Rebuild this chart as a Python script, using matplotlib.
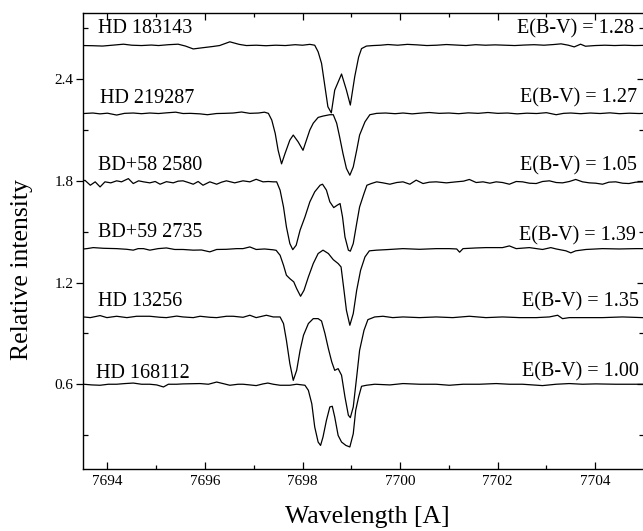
import matplotlib
matplotlib.use('Agg')
import matplotlib.pyplot as plt
from matplotlib.ticker import MultipleLocator

plt.rcParams['font.family'] = ['Liberation Serif', 'DejaVu Serif']
plt.rcParams['mathtext.fontset'] = 'stix'

# ---------------- data ----------------
stars = ['HD 183143', 'HD 219287', 'BD+58 2580', 'BD+59 2735', 'HD 13256', 'HD 168112']
ebv_values = ['1.28', '1.27', '1.05', '1.39', '1.35', '1.00']

hd183143_wl = [7693.51, 7693.70, 7693.90, 7694.10, 7694.33, 7694.50, 7694.70, 7694.90, 7695.05,
               7695.25, 7695.45, 7695.60, 7695.76, 7695.95, 7696.15, 7696.30, 7696.51, 7696.70,
               7696.85, 7697.05, 7697.25, 7697.45, 7697.65, 7697.85, 7698.00, 7698.15, 7698.25,
               7698.32, 7698.39, 7698.46, 7698.52, 7698.59, 7698.66, 7698.80, 7698.90, 7698.98,
               7699.07, 7699.15, 7699.21, 7699.31, 7699.45, 7699.60, 7699.75, 7699.95, 7700.15,
               7700.35, 7700.55, 7700.75, 7700.95, 7701.15, 7701.35, 7701.55, 7701.75, 7701.95,
               7702.15, 7702.35, 7702.55, 7702.75, 7702.95, 7703.15, 7703.30, 7703.45, 7703.57,
               7703.70, 7703.80, 7704.00, 7704.20, 7704.40, 7704.60, 7704.80, 7705.00]
hd183143_flux = [2.598, 2.597, 2.595, 2.600, 2.606, 2.600, 2.598, 2.601, 2.598,
                 2.603, 2.606, 2.595, 2.578, 2.585, 2.592, 2.598, 2.620, 2.605,
                 2.598, 2.600, 2.597, 2.600, 2.598, 2.603, 2.600, 2.605, 2.600,
                 2.561, 2.493, 2.355, 2.237, 2.201, 2.335, 2.430, 2.335, 2.247,
                 2.414, 2.530, 2.580, 2.595, 2.598, 2.600, 2.604, 2.600, 2.605,
                 2.602, 2.598, 2.600, 2.604, 2.601, 2.598, 2.603, 2.600, 2.602,
                 2.600, 2.598, 2.601, 2.603, 2.600, 2.604, 2.608, 2.600, 2.590,
                 2.606, 2.594, 2.598, 2.600, 2.598, 2.600, 2.598, 2.599]

hd219287_wl = [7693.51, 7693.70, 7693.85, 7694.00, 7694.19, 7694.35, 7694.53, 7694.70, 7694.87,
               7695.05, 7695.21, 7695.40, 7695.55, 7695.70, 7695.90, 7696.05, 7696.24, 7696.40,
               7696.58, 7696.75, 7696.92, 7697.10, 7697.22, 7697.30, 7697.37, 7697.44, 7697.50,
               7697.57, 7697.64, 7697.74, 7697.81, 7697.91, 7698.01, 7698.08, 7698.15, 7698.22,
               7698.32, 7698.42, 7698.56, 7698.63, 7698.70, 7698.76, 7698.83, 7698.90, 7698.97,
               7699.04, 7699.11, 7699.17, 7699.28, 7699.38, 7699.52, 7699.70, 7699.90, 7700.06,
               7700.25, 7700.45, 7700.60, 7700.80, 7701.00, 7701.20, 7701.40, 7701.60, 7701.80,
               7702.00, 7702.20, 7702.40, 7702.60, 7702.80, 7703.00, 7703.20, 7703.35, 7703.50,
               7703.70, 7703.90, 7704.10, 7704.30, 7704.50, 7704.70, 7704.90, 7705.00]
hd219287_flux = [2.197, 2.200, 2.195, 2.199, 2.188, 2.198, 2.200, 2.196, 2.200,
                 2.197, 2.201, 2.205, 2.197, 2.198, 2.195, 2.190, 2.197, 2.198,
                 2.200, 2.206, 2.198, 2.200, 2.205, 2.198, 2.158, 2.080, 1.980,
                 1.900, 1.960, 2.040, 2.070, 2.030, 1.980, 2.040, 2.100, 2.140,
                 2.174, 2.182, 2.190, 2.190, 2.140, 2.060, 1.960, 1.873, 1.833,
                 1.882, 1.980, 2.070, 2.148, 2.190, 2.198, 2.200, 2.196, 2.200,
                 2.195, 2.200, 2.203, 2.198, 2.200, 2.196, 2.201, 2.198, 2.203,
                 2.198, 2.200, 2.195, 2.199, 2.197, 2.202, 2.190, 2.198, 2.200,
                 2.196, 2.200, 2.197, 2.201, 2.196, 2.199, 2.197, 2.198]

bd58_wl = [7693.51, 7693.54, 7693.65, 7693.75, 7693.85, 7693.95, 7694.07, 7694.19, 7694.29,
           7694.43, 7694.53, 7694.64, 7694.74, 7694.87, 7694.98, 7695.08, 7695.21, 7695.35,
           7695.45, 7695.55, 7695.66, 7695.76, 7695.86, 7695.96, 7696.10, 7696.24, 7696.34,
           7696.44, 7696.61, 7696.78, 7696.92, 7697.05, 7697.19, 7697.30, 7697.40, 7697.47,
           7697.54, 7697.61, 7697.67, 7697.74, 7697.80, 7697.87, 7697.95, 7698.05, 7698.15,
           7698.25, 7698.36, 7698.41, 7698.49, 7698.56, 7698.64, 7698.71, 7698.77, 7698.82,
           7698.87, 7698.94, 7698.98, 7699.04, 7699.11, 7699.17, 7699.26, 7699.32, 7699.41,
           7699.52, 7699.65, 7699.79, 7699.93, 7700.06, 7700.20, 7700.33, 7700.47, 7700.60,
           7700.74, 7700.95, 7701.15, 7701.30, 7701.42, 7701.56, 7701.70, 7701.84, 7701.97,
           7702.10, 7702.24, 7702.38, 7702.51, 7702.65, 7702.79, 7702.92, 7703.06, 7703.20,
           7703.33, 7703.47, 7703.60, 7703.74, 7703.88, 7704.01, 7704.15, 7704.28, 7704.42,
           7704.56, 7704.69, 7704.83, 7704.97]
bd58_flux = [1.800, 1.803, 1.774, 1.794, 1.764, 1.794, 1.788, 1.800, 1.794,
             1.813, 1.784, 1.800, 1.794, 1.788, 1.796, 1.780, 1.795, 1.788,
             1.798, 1.800, 1.790, 1.780, 1.796, 1.774, 1.794, 1.780, 1.792,
             1.800, 1.788, 1.800, 1.794, 1.809, 1.794, 1.796, 1.794, 1.794,
             1.745, 1.646, 1.528, 1.430, 1.394, 1.420, 1.509, 1.587, 1.676,
             1.735, 1.774, 1.780, 1.745, 1.676, 1.642, 1.656, 1.666, 1.587,
             1.469, 1.391, 1.385, 1.430, 1.548, 1.646, 1.725, 1.774, 1.784,
             1.794, 1.788, 1.780, 1.790, 1.794, 1.780, 1.804, 1.784, 1.792,
             1.794, 1.788, 1.794, 1.798, 1.808, 1.790, 1.794, 1.786, 1.794,
             1.790, 1.780, 1.796, 1.794, 1.786, 1.784, 1.796, 1.800, 1.790,
             1.788, 1.796, 1.808, 1.794, 1.788, 1.786, 1.780, 1.792, 1.794,
             1.786, 1.784, 1.792, 1.794]

bd59_wl = [7693.51, 7693.58, 7693.71, 7693.92, 7694.19, 7694.40, 7694.53, 7694.63, 7694.74,
           7694.87, 7695.04, 7695.21, 7695.38, 7695.55, 7695.76, 7695.93, 7696.10, 7696.24,
           7696.44, 7696.65, 7696.78, 7696.92, 7697.05, 7697.22, 7697.40, 7697.46, 7697.50,
           7697.54, 7697.61, 7697.67, 7697.74, 7697.82, 7697.88, 7697.96, 7698.03, 7698.12,
           7698.22, 7698.32, 7698.42, 7698.53, 7698.63, 7698.73, 7698.79, 7698.85, 7698.90,
           7698.97, 7699.04, 7699.11, 7699.19, 7699.28, 7699.37, 7699.52, 7699.72, 7700.06,
           7700.40, 7700.74, 7701.01, 7701.16, 7701.22, 7701.29, 7701.56, 7701.76, 7702.10,
           7702.24, 7702.38, 7702.65, 7702.92, 7703.09, 7703.20, 7703.40, 7703.50, 7703.60,
           7703.81, 7704.15, 7704.49, 7704.83, 7704.97]
bd59_flux = [1.398, 1.400, 1.406, 1.402, 1.400, 1.396, 1.391, 1.400, 1.400,
             1.391, 1.400, 1.404, 1.395, 1.395, 1.391, 1.392, 1.381, 1.395,
             1.396, 1.400, 1.400, 1.410, 1.395, 1.398, 1.393, 1.390, 1.375,
             1.361, 1.302, 1.243, 1.223, 1.204, 1.164, 1.119, 1.154, 1.233,
             1.312, 1.371, 1.391, 1.371, 1.335, 1.312, 1.292, 1.154, 1.036,
             0.948, 1.017, 1.154, 1.272, 1.351, 1.387, 1.391, 1.394, 1.400,
             1.396, 1.400, 1.400, 1.398, 1.379, 1.400, 1.404, 1.406, 1.406,
             1.416, 1.400, 1.406, 1.395, 1.406, 1.398, 1.387, 1.375, 1.387,
             1.395, 1.400, 1.398, 1.400, 1.400]

hd13256_wl = [7693.51, 7693.65, 7693.85, 7693.99, 7694.19, 7694.40, 7694.60, 7694.87, 7695.08,
              7695.21, 7695.42, 7695.55, 7695.76, 7695.90, 7696.10, 7696.24, 7696.44, 7696.58,
              7696.78, 7696.92, 7697.05, 7697.26, 7697.40, 7697.54, 7697.61, 7697.67, 7697.74,
              7697.81, 7697.88, 7697.95, 7698.02, 7698.12, 7698.22, 7698.32, 7698.39, 7698.46,
              7698.53, 7698.60, 7698.66, 7698.73, 7698.80, 7698.87, 7698.94, 7698.98, 7699.04,
              7699.11, 7699.17, 7699.26, 7699.34, 7699.48, 7699.65, 7699.85, 7700.06, 7700.40,
              7700.74, 7701.08, 7701.42, 7701.76, 7702.10, 7702.45, 7702.79, 7703.06, 7703.23,
              7703.33, 7703.47, 7703.74, 7704.15, 7704.56, 7704.97]
hd13256_flux = [0.997, 0.993, 1.005, 0.993, 1.001, 0.993, 1.001, 1.001, 0.995,
                0.993, 1.002, 0.997, 0.993, 1.001, 0.995, 0.993, 1.001, 1.001,
                0.995, 1.007, 0.993, 1.007, 0.997, 0.997, 0.958, 0.859, 0.722,
                0.623, 0.682, 0.800, 0.889, 0.958, 0.987, 0.987, 0.973, 0.899,
                0.810, 0.731, 0.682, 0.692, 0.653, 0.525, 0.417, 0.403, 0.466,
                0.643, 0.800, 0.918, 0.981, 0.997, 1.001, 0.993, 0.997, 0.993,
                0.997, 0.993, 1.001, 0.993, 0.997, 0.993, 0.993, 0.997, 1.007,
                0.987, 0.993, 0.993, 0.993, 0.997, 0.993]

hd168112_wl = [7693.51, 7693.68, 7693.85, 7694.02, 7694.19, 7694.36, 7694.53, 7694.70, 7694.87,
               7695.01, 7695.15, 7695.25, 7695.42, 7695.55, 7695.90, 7696.07, 7696.24, 7696.37,
               7696.51, 7696.68, 7696.78, 7696.92, 7697.05, 7697.19, 7697.29, 7697.40, 7697.54,
               7697.74, 7697.88, 7698.05, 7698.12, 7698.19, 7698.25, 7698.32, 7698.37, 7698.42,
               7698.49, 7698.56, 7698.61, 7698.66, 7698.73, 7698.80, 7698.89, 7698.97, 7699.04,
               7699.09, 7699.15, 7699.21, 7699.31, 7699.48, 7699.79, 7700.06, 7700.40, 7700.74,
               7701.01, 7701.29, 7701.63, 7701.97, 7702.24, 7702.51, 7702.92, 7703.20, 7703.47,
               7703.74, 7704.01, 7704.42, 7704.83, 7704.97]
hd168112_flux = [0.600, 0.596, 0.594, 0.600, 0.600, 0.604, 0.607, 0.600, 0.600,
                 0.596, 0.584, 0.600, 0.600, 0.602, 0.604, 0.600, 0.613, 0.604,
                 0.594, 0.600, 0.600, 0.596, 0.592, 0.602, 0.607, 0.600, 0.594,
                 0.594, 0.600, 0.594, 0.564, 0.485, 0.348, 0.259, 0.239, 0.289,
                 0.387, 0.466, 0.470, 0.407, 0.298, 0.259, 0.239, 0.230, 0.308,
                 0.446, 0.525, 0.588, 0.594, 0.600, 0.596, 0.604, 0.600, 0.600,
                 0.594, 0.600, 0.600, 0.604, 0.600, 0.600, 0.592, 0.600, 0.604,
                 0.600, 0.602, 0.600, 0.600, 0.600]

spectra_wl = [hd183143_wl, hd219287_wl, bd58_wl, bd59_wl, hd13256_wl, hd168112_wl]
spectra_flux = [hd183143_flux, hd219287_flux, bd58_flux, bd59_flux, hd13256_flux, hd168112_flux]

# ---------------- layout ----------------
name_x = [7693.80, 7693.84, 7693.80, 7693.80, 7693.80, 7693.76]
name_y = [2.670, 2.258, 1.863, 1.467, 1.062, 0.639]
ebv_x = [7704.80, 7704.86, 7704.86, 7704.84, 7704.90, 7704.90]
ebv_y = [2.672, 2.264, 1.863, 1.450, 1.056, 0.643]

W, H = 643, 531
fig = plt.figure(figsize=(W / 100, H / 100), dpi=100)
ax = fig.add_axes([83 / W, 1 - 469 / H, (644 - 83) / W, (469 - 13) / H])

for wl, fl in zip(spectra_wl, spectra_flux):
    ax.plot(wl, fl, color='black', lw=0.9)

for name, x, y in zip(stars, name_x, name_y):
    ax.text(x, y, name, fontsize=14.5, ha='left', va='baseline')
for val, x, y in zip(ebv_values, ebv_x, ebv_y):
    ax.text(x, y, 'E(B-V) = ' + val, fontsize=14.5, ha='right', va='baseline')

ax.set_xlim(7693.5, 7705.0)
ax.set_ylim(0.1, 2.79)

ax.xaxis.set_major_locator(MultipleLocator(2))
ax.xaxis.set_minor_locator(MultipleLocator(1))
ax.yaxis.set_major_locator(MultipleLocator(0.6))
ax.yaxis.set_minor_locator(MultipleLocator(0.3))

ax.tick_params(axis='x', which='both', direction='in', top=True, bottom=True,
               labelsize=11, pad=4, width=0.9)
ax.tick_params(axis='x', which='major', length=5)
ax.tick_params(axis='x', which='minor', length=3)
ax.tick_params(axis='y', which='major', direction='out', length=5, width=0.9,
               labelsize=11, pad=2, right=False)
ax.tick_params(axis='y', which='minor', direction='in', length=3.5, width=0.9, right=False)

sec = ax.secondary_yaxis('right')
sec.yaxis.set_major_locator(MultipleLocator(0.6))
sec.yaxis.set_minor_locator(MultipleLocator(0.3))
sec.tick_params(which='both', direction='in', labelright=False, width=0.9)
sec.tick_params(which='major', length=5)
sec.tick_params(which='minor', length=3.5)

for s in ax.spines.values():
    s.set_linewidth(1.0)
sec.spines['right'].set_linewidth(1.0)

ax.set_yticks([0.6, 1.2, 1.8, 2.4])
ax.set_yticklabels(['0.6', '1.2', '1.8', '2.4'])

fig.text(22 / W, 1 - 270 / H, 'Relative intensity', rotation=90, fontsize=18.5,
         ha='center', va='center')
fig.text(367 / W, 1 - 517 / H, 'Wavelength [A]', fontsize=18.5, ha='center', va='center')

fig.savefig('out.png', dpi=100)
